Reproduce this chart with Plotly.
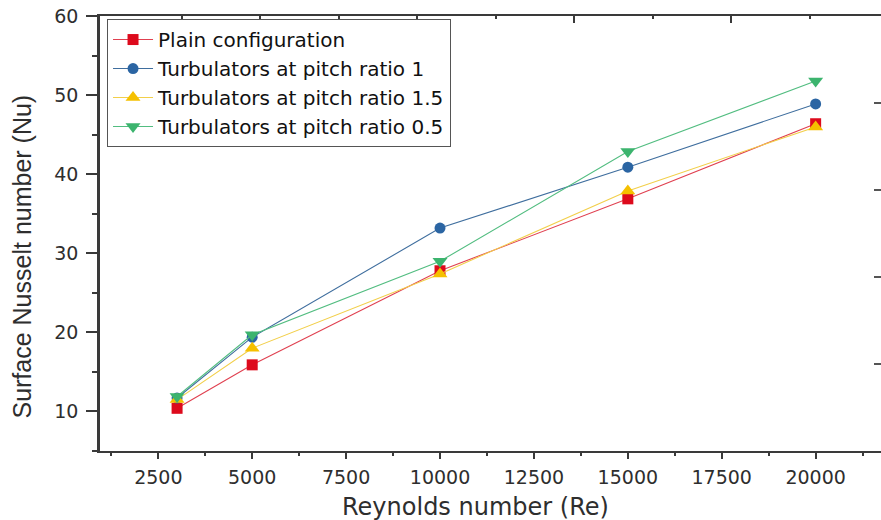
import plotly.graph_objects as go

# ---- data ----
reynolds = [3000, 5000, 10000, 15000, 20000]
plain = [10.4, 15.9, 27.8, 36.9, 46.4]
pitch_1 = [11.7, 19.4, 33.2, 40.9, 48.9]
pitch_1_5 = [11.5, 18.0, 27.4, 37.9, 46.0]
pitch_0_5 = [11.9, 19.7, 29.0, 42.9, 51.8]

series_names = [
    "Plain configuration",
    "Turbulators at pitch ratio 1",
    "Turbulators at pitch ratio 1.5",
    "Turbulators at pitch ratio 0.5",
]
series_values = [plain, pitch_1, pitch_1_5, pitch_0_5]
colors = ["#DD0A1C", "#2B65A3", "#F5C000", "#3CB46E"]
line_colors = ["#E04050", "#3F6E9E", "#F2CF4A", "#52BD80"]
symbols = ["square", "circle", "triangle-up", "triangle-down"]
sizes = [11, 11, 13, 13]

x_title = "Reynolds number (Re)"
y_title = "Surface Nusselt number (Nu)"

AX = "#3a3a3a"
TXT = "#2e2e2e"
FONT = "DejaVu Sans"

fig = go.Figure()
for name, vals, c, lc, sym, sz in zip(series_names, series_values, colors, line_colors, symbols, sizes):
    fig.add_trace(go.Scatter(
        x=reynolds, y=vals, name=name, mode="lines+markers",
        line=dict(color=lc, width=1.1),
        marker=dict(symbol=sym, size=sz, color=c, line=dict(width=0)),
    ))

# dummy trace so the decorative top/right tick axes render
fig.add_trace(go.Scatter(x=[None], y=[None], xaxis="x2", yaxis="y2",
                         showlegend=False, hoverinfo="skip"))

fig.update_layout(
    width=881, height=520,
    margin=dict(l=100, r=0, t=16, b=69),
    paper_bgcolor="white", plot_bgcolor="white",
    font=dict(family=FONT, color=TXT),
    xaxis=dict(
        range=[948, 21740], tick0=0, dtick=2500, tickformat="d",
        showgrid=False, zeroline=False,
        showline=True, linecolor=AX, linewidth=2, mirror=True,
        ticks="outside", ticklen=6, tickwidth=1.5, tickcolor=AX,
        minor=dict(dtick=1250, tick0=0, ticks="outside", ticklen=3, tickwidth=1.5, tickcolor=AX, showgrid=False),
        tickfont=dict(family=FONT, size=19, color=TXT),
        ticklabelstandoff=2,
    ),
    yaxis=dict(
        range=[5, 60.03], tick0=0, dtick=10, tickformat="d",
        showgrid=False, zeroline=False,
        showline=True, linecolor=AX, linewidth=2.5, mirror=False,
        ticks="outside", ticklen=11, tickwidth=1.5, tickcolor=AX,
        minor=dict(dtick=5, tick0=0, ticks="outside", ticklen=5, tickwidth=1.5, tickcolor=AX, showgrid=False),
        tickfont=dict(family=FONT, size=19, color=TXT),
        ticklabelstandoff=4,
    ),
    xaxis2=dict(
        overlaying="x", side="top", range=[-0.04, 9.91],
        showgrid=False, zeroline=False, showline=False, showticklabels=False,
        tickvals=[2, 4, 6, 8], ticks="inside", ticklen=7, tickwidth=1.5, tickcolor=AX,
        minor=dict(tickvals=[1, 3, 5, 7, 9], ticks="inside", ticklen=3, tickwidth=1.5, tickcolor=AX, showgrid=False),
        fixedrange=True,
    ),
    yaxis2=dict(
        overlaying="y", side="right", range=[0, 5],
        showgrid=False, zeroline=False, showline=False, showticklabels=False,
        tickvals=[1, 2, 3, 4], ticks="inside", ticklen=7, tickwidth=1.5, tickcolor="#555",
        fixedrange=True,
    ),
    legend=dict(
        x=0.009, y=0.993, xanchor="left", yanchor="top",
        bgcolor="white", bordercolor="#555", borderwidth=1,
        font=dict(family=FONT, size=20, color="#111"),
        itemwidth=40, tracegroupgap=0,
    ),
    showlegend=True,
    annotations=[
        dict(text=x_title, xref="paper", yref="paper", x=0.481, y=-0.128,
             xanchor="center", yanchor="middle", showarrow=False,
             font=dict(family=FONT, size=24, color=TXT)),
        dict(text=y_title, xref="paper", yref="paper", x=-0.0999, y=0.447,
             xanchor="center", yanchor="middle", showarrow=False, textangle=-90,
             font=dict(family="Liberation Sans", size=25, color=TXT)),
    ],
)

fig.write_html("out.html", config={"displayModeBar": False})
